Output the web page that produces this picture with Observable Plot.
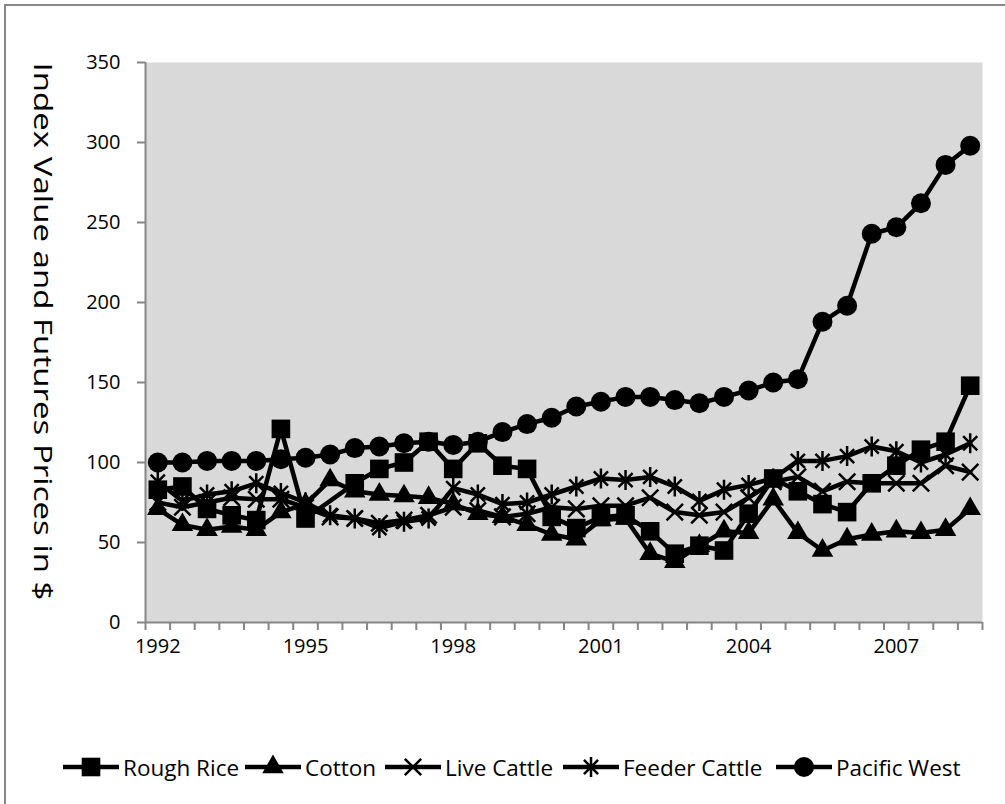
<!DOCTYPE html>
<html>
<head>
<meta charset="utf-8">
<script src="https://cdn.jsdelivr.net/npm/d3@7"></script>
<script src="https://cdn.jsdelivr.net/npm/@observablehq/plot@0.6"></script>
<style>
  body { margin: 0; background: #fff; font-family: "Open Sans", sans-serif; }
  #page { position: relative; width: 1005px; height: 804px; overflow: hidden; background: #fff; }
  #border { position: absolute; left: 4px; top: 4px; width: 1100px; height: 900px;
            border-left: 2px solid #888; border-top: 2px solid #888; }
  #chart { position: absolute; left: 0; top: 0; }
  #legend { position: absolute; left: 0; top: 752px; width: 1005px; height: 30px; }
  .item { position: absolute; top: 0; height: 30px; display: flex; align-items: center;
          font-size: 22.5px; color: #000; white-space: nowrap; }
  .item svg { display: block; margin-right: 4px; }
</style>
</head>
<body>
<div id="page">
  <div id="border"></div>
  <div id="chart"></div>
  <div id="legend"></div>
</div>
<script>
// Half-year periods, 1992 to 2008
const periods = [1992, 1992.5, 1993, 1993.5, 1994, 1994.5, 1995, 1995.5, 1996, 1996.5,
                 1997, 1997.5, 1998, 1998.5, 1999, 1999.5, 2000, 2000.5, 2001, 2001.5,
                 2002, 2002.5, 2003, 2003.5, 2004, 2004.5, 2005, 2005.5, 2006, 2006.5,
                 2007, 2007.5, 2008, 2008.5];
const yearLabels = [1992, 1995, 1998, 2001, 2004, 2007];
const yTicks = [0, 50, 100, 150, 200, 250, 300, 350];

// null = no observation for that period (the line bridges the gap)
const roughRice = [83, 85, 71, 67, 64, 121, 65, null, 87, 96, 100, 113, 96, 112, 98, 96, 66,
                   59, 66, 67, 57, 43, 48, 45, 68, 90, 82, 74, 69, 87, 98, 108, 113, 148];
const cotton = [71, 61, 58, 60, 58, 69, 74, 89, 82, 80, 79, 78, 74, 68, 66, 61, 55,
                52, 64, 65, 43, 38, 48, 57, 56, 77, 56, 45, 52, 55, 57, 56, 58, 71];
const liveCattle = [75, 72, 75, 78, 77, 77, 72, 66, 65, 62, 64, 67, 72, 70, 66, 68, 72,
                    71, 73, 73, 78, 69, 67, 69, 78, 88, 91, 82, 88, 87, 87, 87, 98, 94];
const feederCattle = [88, 76, 80, 82, 87, 81, 75, 67, 65, 59, 63, 65, 84, 80, 74, 75, 80,
                      85, 90, 89, 91, 85, 76, 83, 86, 90, 101, 101, 104, 110, 107, 100, 105, 112];
const pacificWest = [100, 100, 101, 101, 101, 102, 103, 105, 109, 110, 112, 113, 111, 113, 119, 124, 128,
                     135, 138, 141, 141, 139, 137, 141, 145, 150, 152, 188, 198, 243, 247, 262, 286, 298];

const seriesNames = ["Rough Rice", "Cotton", "Live Cattle", "Feeder Cattle", "Pacific West"];
const seriesValues = [roughRice, cotton, liveCattle, feederCattle, pacificWest];
const yTitle = "Index Value and Futures Prices in $";

// Excel-style "star" marker: a vertical bar crossed by an X
const symbolStar = {
  draw(context, size) {
    const r = Math.sqrt(size / Math.PI);
    const d = r * Math.SQRT1_2;
    context.moveTo(0, -r); context.lineTo(0, r);
    context.moveTo(-d, -d); context.lineTo(d, d);
    context.moveTo(-d, d); context.lineTo(d, -d);
  }
};

const markerStyles = [
  {symbol: d3.symbolSquare, r: 10.5, fill: "black"},
  {symbol: d3.symbolTriangle, r: 8, fill: "black"},
  {symbol: d3.symbolTimes, r: 7.5, fill: "none", stroke: "black", strokeWidth: 2.5},
  {symbol: symbolStar, r: 10, fill: "none", stroke: "black", strokeWidth: 2.5},
  {symbol: d3.symbolCircle, r: 10, fill: "black"}
];

const rows = seriesNames.map((name, s) =>
  periods.map((p, i) => ({series: name, period: p, value: seriesValues[s][i]}))
         .filter(d => d.value != null));

const xDomain = [periods[0] - 0.25, periods[periods.length - 1] + 0.25];
const boundaries = periods.map(p => p - 0.25).concat([xDomain[1]]);

const seriesMarks = rows.flatMap((data, s) => [
  Plot.line(data, {x: "period", y: "value", stroke: "black", strokeWidth: 4.5}),
  Plot.dot(data, {x: "period", y: "value", ...markerStyles[s]})
]);

const chart = Plot.plot({
  width: 1005,
  height: 740,
  marginLeft: 145,
  marginRight: 23,
  marginTop: 62,
  marginBottom: 118,
  style: {fontFamily: "Open Sans, sans-serif", background: "transparent"},
  x: {domain: xDomain},
  y: {domain: [0, 350]},
  marks: [
    Plot.frame({fill: "#d9d9d9", stroke: "none"}),
    Plot.axisY({ticks: yTicks, tickSize: 8, tickPadding: 17, fontSize: 20,
                stroke: "#868686", strokeWidth: 2, fill: "black", tickFormat: d => d, label: null}),
    Plot.axisX({ticks: boundaries, tickSize: 8, tickFormat: () => "",
                stroke: "#868686", strokeWidth: 2, label: null}),
    Plot.axisX({ticks: yearLabels, tickSize: 0, tickPadding: 16, fontSize: 20,
                fill: "black", tickFormat: d => String(d), label: null}),
    Plot.ruleX([xDomain[0]], {stroke: "#868686", strokeWidth: 2}),
    Plot.ruleY([0], {stroke: "#868686", strokeWidth: 2}),
    Plot.text([yTitle], {
      frameAnchor: "left", textAnchor: "middle", rotate: 90, dx: -103, dy: -11,
      fontSize: 26, fill: "black", className: "y-title"
    }),
    ...seriesMarks
  ]
});
// stretch the axis title to its full run along the axis
d3.select(chart).selectAll(".y-title text")
  .attr("textLength", 538).attr("lengthAdjust", "spacingAndGlyphs");
document.getElementById("chart").appendChild(chart);

// Legend below the chart
const legendLeft = [63, 245, 385, 563, 776];
const legend = d3.select("#legend");
seriesNames.forEach((name, s) => {
  const item = legend.append("div").attr("class", "item").style("left", legendLeft[s] + "px");
  const svg = item.append("svg").attr("width", 56).attr("height", 30);
  svg.append("line").attr("x1", 0).attr("x2", 56).attr("y1", 15).attr("y2", 15)
     .attr("stroke", "black").attr("stroke-width", 4.5);
  const m = markerStyles[s];
  const size = m.r * m.r * Math.PI;
  svg.append("path").attr("transform", "translate(28,15)")
     .attr("d", d3.symbol(m.symbol, size)())
     .attr("fill", m.fill).attr("stroke", m.stroke || "none")
     .attr("stroke-width", m.strokeWidth || 0);
  item.append("span").text(name);
});
</script>
</body>
</html>
